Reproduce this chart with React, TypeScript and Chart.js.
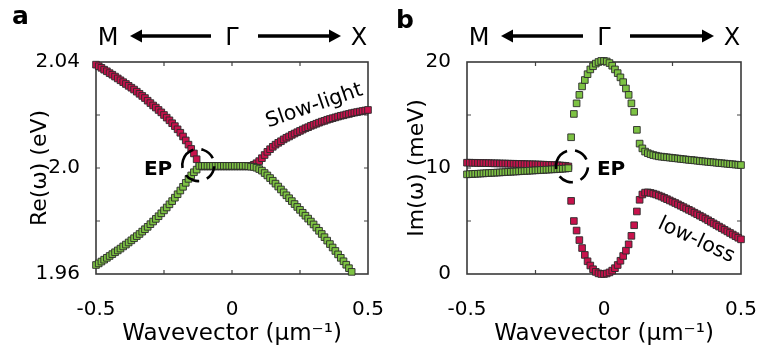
import React, { useEffect, useRef } from 'react';
import { Chart, registerables } from 'chart.js';

Chart.register(...registerables);

// ---------- data ----------
const K = [-0.5,-0.49,-0.48,-0.47,-0.46,-0.45,-0.44,-0.43,-0.42,-0.41,-0.4,-0.39,-0.38,-0.37,-0.36,-0.35,-0.34,-0.33,-0.32,-0.31,-0.3,-0.29,-0.28,-0.27,-0.26,-0.25,-0.24,-0.23,-0.22,-0.21,-0.2,-0.19,-0.18,-0.17,-0.16,-0.15,-0.14,-0.13,-0.12,-0.11,-0.1,-0.09,-0.08,-0.07,-0.06,-0.05,-0.04,-0.03,-0.02,-0.01,0,0.01,0.02,0.03,0.04,0.05,0.06,0.07,0.08,0.09,0.1,0.11,0.12,0.13,0.14,0.15,0.16,0.17,0.18,0.19,0.2,0.21,0.22,0.23,0.24,0.25,0.26,0.27,0.28,0.29,0.3,0.31,0.32,0.33,0.34,0.35,0.36,0.37,0.38,0.39,0.4,0.41,0.42,0.43,0.44,0.45,0.46,0.47,0.48,0.49,0.5];

// Re(ω) in eV
const RE_RED = [
  2.0390,2.0384,2.0378,2.0371,2.0365,2.0358,2.0352,2.0345,2.0338,2.0331,
  2.0324,2.0317,2.0310,2.0303,2.0296,2.0288,2.0280,2.0272,2.0264,2.0254,
  2.0245,2.0236,2.0228,2.0219,2.0210,2.0200,2.0190,2.0180,2.0169,2.0158,
  2.0146,2.0133,2.0119,2.0104,2.0088,2.0072,2.0055,2.0033,
  2.0006,2.0006,2.0006,2.0006,2.0006,2.0006,2.0006,2.0006,2.0006,2.0006,
  2.0006,2.0006,2.0006,2.0006,2.0006,2.0006,2.0006,2.0006,2.0006,
  2.0008,2.0012,2.0018,2.0026,2.0037,2.0049,2.0061,2.0071,2.0080,2.0088,
  2.0095,2.0101,2.0108,2.0114,2.0119,2.0125,2.0130,2.0135,2.0140,2.0145,
  2.0150,2.0154,2.0159,2.0163,2.0167,2.0171,2.0175,2.0178,2.0182,2.0185,
  2.0188,2.0191,2.0194,2.0197,2.0199,2.0202,2.0204,2.0207,2.0209,2.0211,
  2.0213,2.0215,2.0217,2.0219
];
const RE_GREEN = [
  1.9634,1.9640,1.9647,1.9654,1.9661,1.9668,1.9675,1.9682,1.9689,1.9696,
  1.9704,1.9711,1.9719,1.9727,1.9735,1.9743,1.9751,1.9760,1.9769,1.9778,
  1.9788,1.9798,1.9808,1.9818,1.9829,1.9840,1.9851,1.9863,1.9875,1.9888,
  1.9901,1.9915,1.9929,1.9944,1.9959,1.9972,1.9984,1.9994,
  2.0008,2.0008,2.0008,2.0008,2.0008,2.0008,2.0008,2.0008,2.0008,2.0008,
  2.0008,2.0008,2.0008,2.0008,2.0008,2.0008,2.0008,2.0008,2.0007,2.0005,
  2.0004,2.0001,1.9996,1.9990,1.9981,1.9972,1.9962,1.9952,1.9941,1.9930,
  1.9919,1.9908,1.9897,1.9886,1.9875,1.9864,1.9853,1.9842,1.9831,1.9820,
  1.9809,1.9798,1.9787,1.9775,1.9763,1.9751,1.9739,1.9726,1.9713,1.9700,
  1.9687,1.9674,1.9661,1.9648,1.9635,1.9622,1.9608,
  null,null,null,null,null,null
];

// Im(ω) in meV
const IM_RED = [
  10.50,10.50,10.49,10.49,10.48,10.47,10.47,10.46,10.46,10.45,
  10.44,10.44,10.43,10.42,10.42,10.41,10.40,10.40,10.39,10.38,
  10.38,10.37,10.36,10.35,10.35,10.34,10.33,10.32,10.31,10.30,
  10.29,10.28,10.27,10.26,10.24,10.22,10.20,10.15,
  6.9,5.0,4.1,3.2,2.45,1.8,1.2,0.8,0.45,0.2,0.06,0.0,
  0.0,
  0.05,0.15,0.32,0.55,0.85,1.25,1.7,2.2,2.8,3.6,
  4.6,5.9,7.0,7.5,7.68,7.7,7.65,7.58,7.5,7.4,
  7.3,7.18,7.06,6.94,6.82,6.7,6.57,6.44,6.31,6.18,
  6.05,5.92,5.78,5.64,5.5,5.36,5.22,5.07,4.92,4.77,
  4.62,4.47,4.32,4.17,4.02,3.87,3.72,3.57,3.42,3.27
];
const IM_GREEN = [
  9.40,9.42,9.43,9.45,9.46,9.48,9.49,9.51,9.52,9.54,
  9.55,9.57,9.58,9.60,9.61,9.63,9.64,9.66,9.67,9.69,
  9.70,9.72,9.73,9.75,9.76,9.78,9.79,9.81,9.82,9.84,
  9.85,9.87,9.88,9.90,9.91,9.93,9.95,9.98,
  12.9,15.1,16.1,16.9,17.7,18.3,18.85,19.3,19.6,19.85,20.0,20.1,
  20.1,
  20.05,19.9,19.65,19.3,18.95,18.55,18.1,17.5,16.9,16.1,
  15.3,13.6,12.3,11.85,11.55,11.4,11.3,11.22,11.16,11.1,
  11.07,11.04,11.01,10.98,10.95,10.92,10.89,10.86,10.83,10.8,
  10.77,10.75,10.72,10.69,10.66,10.63,10.61,10.58,10.55,10.53,
  10.5,10.47,10.45,10.42,10.4,10.37,10.35,10.32,10.3,10.28
];

const X_TICKS = [-0.5, -0.25, 0, 0.25, 0.5];
const X_TICK_LABELS = ['-0.5', '', '0', '', '0.5'];
const RE_TICKS = [1.96, 1.98, 2.0, 2.02, 2.04];
const RE_TICK_LABELS = ['1.96', '', '2.0', '', '2.04'];
const IM_TICKS = [0, 5, 10, 15, 20];
const IM_TICK_LABELS = ['0', '', '10', '', '20'];

// ---------- styles ----------
const FONT = "'DejaVu Sans', 'Liberation Sans', sans-serif";
const RED = '#C8124C';
const GREEN = '#7DC243';
const MARK_BORDER = '#2a2a2a';

type PanelCfg = {
  letter: string;
  letterX: number;
  letterY: number;
  yMin: number;
  yMax: number;
  yTicks: number[];
  yLabels: string[];
  yTitle: string;
  yTitlePad: number;
  yWidth: number;
  padRight: number;
  red: (number | null)[];
  green: (number | null)[];
  epK: number;
  epV: number;
  epSide: 'left' | 'right';
  note: string;
  noteK: number;
  noteV: number;
  noteAngle: number;
};

function drawArrow(ctx: CanvasRenderingContext2D, x0: number, x1: number, y: number) {
  const dir = Math.sign(x1 - x0);
  const head = 12;
  const hw = 6.5;
  ctx.beginPath();
  ctx.moveTo(x0, y);
  ctx.lineTo(x1 - dir * head, y);
  ctx.lineWidth = 3.5;
  ctx.stroke();
  ctx.beginPath();
  ctx.moveTo(x1, y);
  ctx.lineTo(x1 - dir * head, y - hw);
  ctx.lineTo(x1 - dir * head, y + hw);
  ctx.closePath();
  ctx.fill();
}

function makeOverlay(cfg: PanelCfg) {
  return {
    id: 'overlay',
    beforeDatasetsDraw(chart: any) {
      const { ctx, chartArea: a, scales } = chart;
      const xs = scales.x;
      const ys = scales.y;
      ctx.save();
      ctx.strokeStyle = '#444';
      ctx.lineWidth = 1.2;
      X_TICKS.forEach((v) => {
        const px = xs.getPixelForValue(v);
        if (px <= a.left + 1 || px >= a.right - 1) return;
        ctx.beginPath();
        ctx.moveTo(px, a.bottom);
        ctx.lineTo(px, a.bottom - 4);
        ctx.moveTo(px, a.top);
        ctx.lineTo(px, a.top + 4);
        ctx.stroke();
      });
      cfg.yTicks.forEach((v) => {
        const py = ys.getPixelForValue(v);
        if (py <= a.top + 1 || py >= a.bottom - 1) return;
        ctx.beginPath();
        ctx.moveTo(a.left, py);
        ctx.lineTo(a.left + 4, py);
        ctx.moveTo(a.right, py);
        ctx.lineTo(a.right - 4, py);
        ctx.stroke();
      });
      ctx.strokeStyle = '#3a3a3a';
      ctx.lineWidth = 1.6;
      ctx.strokeRect(a.left, a.top, a.right - a.left, a.bottom - a.top);
      ctx.restore();
    },
    afterDraw(chart: any) {
      const { ctx, chartArea: a, scales } = chart;
      const xs = scales.x;
      const ys = scales.y;
      ctx.save();
      ctx.fillStyle = '#000';
      ctx.strokeStyle = '#000';
      // panel letter
      ctx.font = `bold 25px ${FONT}`;
      ctx.textAlign = 'left';
      ctx.textBaseline = 'alphabetic';
      ctx.fillText(cfg.letter, cfg.letterX, cfg.letterY);
      // header  M <---- Γ ----> X
      const cx = (a.left + a.right) / 2;
      const hy = 36;
      ctx.font = `24px ${FONT}`;
      ctx.textAlign = 'center';
      ctx.textBaseline = 'alphabetic';
      ctx.fillText('M', a.left + 12, 45);
      ctx.fillText('Γ', cx, 45);
      ctx.fillText('X', a.right - 9, 45);
      drawArrow(ctx, cx - 21, a.left + 34, hy);
      drawArrow(ctx, cx + 26, a.right - 27, hy);
      // EP circle
      const ex = xs.getPixelForValue(cfg.epK);
      const ey = ys.getPixelForValue(cfg.epV);
      ctx.beginPath();
      ctx.setLineDash([15, 8]);
      ctx.lineWidth = 2.6;
      ctx.arc(ex, ey, 16, -Math.PI * 0.9, Math.PI * 1.1);
      ctx.stroke();
      ctx.setLineDash([]);
      ctx.font = `bold 20px ${FONT}`;
      if (cfg.epSide === 'left') {
        ctx.textAlign = 'right';
        ctx.fillText('EP', ex - 26, ey + 9.5);
      } else {
        ctx.textAlign = 'left';
        ctx.fillText('EP', ex + 25, ey + 8.5);
      }
      // rotated note
      const nx = xs.getPixelForValue(cfg.noteK);
      const ny = ys.getPixelForValue(cfg.noteV);
      ctx.translate(nx, ny);
      ctx.rotate((cfg.noteAngle * Math.PI) / 180);
      ctx.font = `20.5px ${FONT}`;
      ctx.textAlign = 'center';
      ctx.textBaseline = 'alphabetic';
      ctx.fillText(cfg.note, 0, 0);
      ctx.restore();
    },
  };
}

function toPoints(vals: (number | null)[]) {
  const pts: { x: number; y: number }[] = [];
  K.forEach((k, i) => {
    const v = vals[i];
    if (v !== null && v !== undefined) pts.push({ x: k, y: v });
  });
  return pts;
}

function buildConfig(cfg: PanelCfg): any {
  const markerBase = {
    pointStyle: 'rect',
    pointRadius: 4.7,
    pointBorderWidth: 0.9,
    pointBorderColor: MARK_BORDER,
    borderColor: MARK_BORDER,
    borderWidth: 0.9,
    showLine: false,
    clip: false,
  };
  return {
    type: 'scatter',
    data: {
      datasets: [
        { ...markerBase, label: 'green', data: toPoints(cfg.green), backgroundColor: GREEN, pointBackgroundColor: GREEN },
        { ...markerBase, label: 'red', data: toPoints(cfg.red), backgroundColor: RED, pointBackgroundColor: RED },
      ],
    },
    options: {
      responsive: false,
      animation: false,
      devicePixelRatio: 1,
      events: [],
      layout: { padding: { top: 62, right: cfg.padRight, left: 0, bottom: 0 } },
      plugins: { legend: { display: false }, tooltip: { enabled: false } },
      scales: {
        x: {
          type: 'linear',
          min: -0.5,
          max: 0.5,
          grid: { display: false },
          border: { display: false },
          afterBuildTicks: (s: any) => {
            s.ticks = X_TICKS.map((v) => ({ value: v }));
          },
          afterFit: (s: any) => {
            s.height = 80;
            s.paddingLeft = 0;
            s.paddingRight = 0;
          },
          ticks: {
            autoSkip: false,
            maxRotation: 0,
            minRotation: 0,
            padding: 16,
            color: '#000',
            font: { family: FONT, size: 20 },
            callback: (_v: any, i: number) => X_TICK_LABELS[i],
          },
          title: {
            display: true,
            text: 'Wavevector (μm⁻¹)',
            color: '#000',
            font: { family: FONT, size: 23 },
            padding: { top: 0, bottom: 6 },
          },
        },
        y: {
          type: 'linear',
          min: cfg.yMin,
          max: cfg.yMax,
          grid: { display: false },
          border: { display: false },
          afterBuildTicks: (s: any) => {
            s.ticks = cfg.yTicks.map((v) => ({ value: v }));
          },
          afterFit: (s: any) => {
            s.width = cfg.yWidth;
            s.paddingTop = 0;
            s.paddingBottom = 0;
          },
          ticks: {
            autoSkip: false,
            padding: 8,
            color: '#000',
            font: { family: FONT, size: 20 },
            callback: (_v: any, i: number) => cfg.yLabels[i],
          },
          title: {
            display: true,
            text: cfg.yTitle,
            color: '#000',
            font: { family: FONT, size: 22 },
            padding: { top: cfg.yTitlePad, bottom: 0 },
          },
        },
      },
    },
    plugins: [makeOverlay(cfg)],
  };
}

const PANEL_A: PanelCfg = {
  letter: 'a',
  letterX: 12,
  letterY: 24,
  yMin: 1.96,
  yMax: 2.04,
  yTicks: RE_TICKS,
  yLabels: RE_TICK_LABELS,
  yTitle: 'Re(ω) (eV)',
  yTitlePad: 27,
  yWidth: 96,
  padRight: 32,
  red: RE_RED,
  green: RE_GREEN,
  epK: -0.124,
  epV: 2.0011,
  epSide: 'left',
  note: 'Slow-light',
  noteK: 0.309,
  noteV: 2.0215,
  noteAngle: -19,
};

const PANEL_B: PanelCfg = {
  letter: 'b',
  letterX: 16,
  letterY: 28,
  yMin: 0,
  yMax: 20,
  yTicks: IM_TICKS,
  yLabels: IM_TICK_LABELS,
  yTitle: 'Im(ω) (meV)',
  yTitlePad: 24,
  yWidth: 87,
  padRight: 20,
  red: IM_RED,
  green: IM_GREEN,
  epK: -0.117,
  epV: 10.17,
  epSide: 'right',
  note: 'low-loss',
  noteK: 0.3285,
  noteV: 2.72,
  noteAngle: 25,
};

function Panel({ cfg, left, width }: { cfg: PanelCfg; left: number; width: number }) {
  const ref = useRef<HTMLCanvasElement | null>(null);
  useEffect(() => {
    if (!ref.current) return;
    const chart = new Chart(ref.current, buildConfig(cfg));
    return () => chart.destroy();
  }, [cfg]);
  return (
    <div style={{ position: 'absolute', left, top: 0, width, height: 354 }}>
      <canvas ref={ref} width={width} height={354} style={{ width, height: 354, display: 'block' }} />
    </div>
  );
}

export default function App() {
  return (
    <div style={{ position: 'absolute', left: 0, top: 0, width: 761, height: 354, background: '#fff', overflow: 'hidden' }}>
      <Panel cfg={PANEL_A} left={0} width={400} />
      <Panel cfg={PANEL_B} left={380} width={381} />
    </div>
  );
}
